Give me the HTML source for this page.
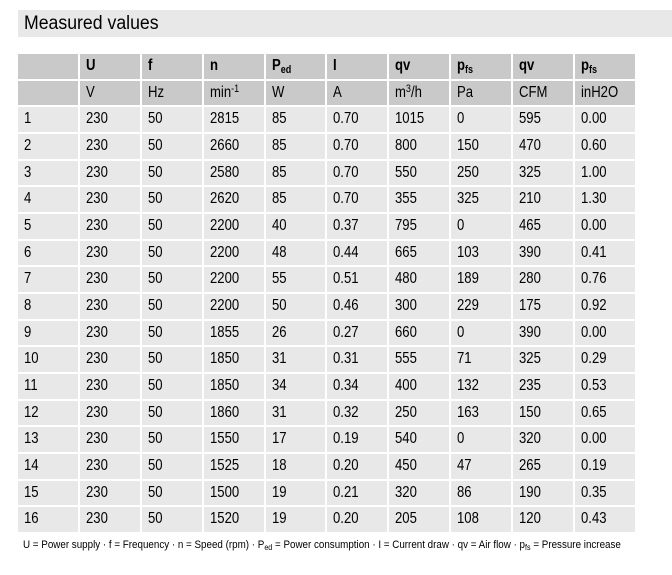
<!DOCTYPE html>
<html><head><meta charset="utf-8">
<style>
html,body{margin:0;padding:0;background:#fff;}
body{width:672px;height:575px;position:relative;overflow:hidden;font-family:"Liberation Sans",Arial,sans-serif;color:#000;}
.bar{position:absolute;left:18px;top:10px;width:654px;height:27px;background:#e8e8e8;}
.title{position:absolute;left:24px;top:10px;line-height:27px;font-size:19px;white-space:nowrap;transform:scaleX(0.93);transform-origin:left center;}
.grid{position:absolute;left:18px;top:54px;display:grid;grid-template-columns:repeat(10,59.9px);grid-template-rows:repeat(18,24.67px);column-gap:2px;row-gap:2px;}
.grid div{background:#e8e8e8;padding-left:6px;line-height:24.67px;font-size:16px;white-space:nowrap;overflow:hidden;}
.grid div.h{background:#c9c9c9;}
.grid div.b{font-weight:bold;}
.grid span.t{display:inline-block;transform:scaleX(0.82);transform-origin:left center;}
sub{font-size:11px;vertical-align:-3px;line-height:0;}
sup{font-size:11px;vertical-align:5px;line-height:0;}
.foot{position:absolute;left:23px;top:539px;font-size:11px;line-height:13px;white-space:nowrap;transform:scaleX(0.892);transform-origin:left center;}
.foot sub{font-size:8px;vertical-align:-2px;}
</style></head><body>
<div class="bar"></div>
<div class="title">Measured values</div>
<div class="grid">
<div class="h"></div><div class="h b"><span class="t">U</span></div><div class="h b"><span class="t">f</span></div><div class="h b"><span class="t">n</span></div><div class="h b"><span class="t">P<sub>ed</sub></span></div><div class="h b"><span class="t">I</span></div><div class="h b"><span class="t">qv</span></div><div class="h b"><span class="t">p<sub>fs</sub></span></div><div class="h b"><span class="t">qv</span></div><div class="h b"><span class="t">p<sub>fs</sub></span></div>
<div class="h"></div><div class="h"><span class="t">V</span></div><div class="h"><span class="t">Hz</span></div><div class="h"><span class="t">min<sup>-1</sup></span></div><div class="h"><span class="t">W</span></div><div class="h"><span class="t">A</span></div><div class="h"><span class="t">m<sup>3</sup>/h</span></div><div class="h"><span class="t">Pa</span></div><div class="h"><span class="t">CFM</span></div><div class="h"><span class="t">inH2O</span></div>
<div><span class="t">1</span></div><div><span class="t">230</span></div><div><span class="t">50</span></div><div><span class="t">2815</span></div><div><span class="t">85</span></div><div><span class="t">0.70</span></div><div><span class="t">1015</span></div><div><span class="t">0</span></div><div><span class="t">595</span></div><div><span class="t">0.00</span></div>
<div><span class="t">2</span></div><div><span class="t">230</span></div><div><span class="t">50</span></div><div><span class="t">2660</span></div><div><span class="t">85</span></div><div><span class="t">0.70</span></div><div><span class="t">800</span></div><div><span class="t">150</span></div><div><span class="t">470</span></div><div><span class="t">0.60</span></div>
<div><span class="t">3</span></div><div><span class="t">230</span></div><div><span class="t">50</span></div><div><span class="t">2580</span></div><div><span class="t">85</span></div><div><span class="t">0.70</span></div><div><span class="t">550</span></div><div><span class="t">250</span></div><div><span class="t">325</span></div><div><span class="t">1.00</span></div>
<div><span class="t">4</span></div><div><span class="t">230</span></div><div><span class="t">50</span></div><div><span class="t">2620</span></div><div><span class="t">85</span></div><div><span class="t">0.70</span></div><div><span class="t">355</span></div><div><span class="t">325</span></div><div><span class="t">210</span></div><div><span class="t">1.30</span></div>
<div><span class="t">5</span></div><div><span class="t">230</span></div><div><span class="t">50</span></div><div><span class="t">2200</span></div><div><span class="t">40</span></div><div><span class="t">0.37</span></div><div><span class="t">795</span></div><div><span class="t">0</span></div><div><span class="t">465</span></div><div><span class="t">0.00</span></div>
<div><span class="t">6</span></div><div><span class="t">230</span></div><div><span class="t">50</span></div><div><span class="t">2200</span></div><div><span class="t">48</span></div><div><span class="t">0.44</span></div><div><span class="t">665</span></div><div><span class="t">103</span></div><div><span class="t">390</span></div><div><span class="t">0.41</span></div>
<div><span class="t">7</span></div><div><span class="t">230</span></div><div><span class="t">50</span></div><div><span class="t">2200</span></div><div><span class="t">55</span></div><div><span class="t">0.51</span></div><div><span class="t">480</span></div><div><span class="t">189</span></div><div><span class="t">280</span></div><div><span class="t">0.76</span></div>
<div><span class="t">8</span></div><div><span class="t">230</span></div><div><span class="t">50</span></div><div><span class="t">2200</span></div><div><span class="t">50</span></div><div><span class="t">0.46</span></div><div><span class="t">300</span></div><div><span class="t">229</span></div><div><span class="t">175</span></div><div><span class="t">0.92</span></div>
<div><span class="t">9</span></div><div><span class="t">230</span></div><div><span class="t">50</span></div><div><span class="t">1855</span></div><div><span class="t">26</span></div><div><span class="t">0.27</span></div><div><span class="t">660</span></div><div><span class="t">0</span></div><div><span class="t">390</span></div><div><span class="t">0.00</span></div>
<div><span class="t">10</span></div><div><span class="t">230</span></div><div><span class="t">50</span></div><div><span class="t">1850</span></div><div><span class="t">31</span></div><div><span class="t">0.31</span></div><div><span class="t">555</span></div><div><span class="t">71</span></div><div><span class="t">325</span></div><div><span class="t">0.29</span></div>
<div><span class="t">11</span></div><div><span class="t">230</span></div><div><span class="t">50</span></div><div><span class="t">1850</span></div><div><span class="t">34</span></div><div><span class="t">0.34</span></div><div><span class="t">400</span></div><div><span class="t">132</span></div><div><span class="t">235</span></div><div><span class="t">0.53</span></div>
<div><span class="t">12</span></div><div><span class="t">230</span></div><div><span class="t">50</span></div><div><span class="t">1860</span></div><div><span class="t">31</span></div><div><span class="t">0.32</span></div><div><span class="t">250</span></div><div><span class="t">163</span></div><div><span class="t">150</span></div><div><span class="t">0.65</span></div>
<div><span class="t">13</span></div><div><span class="t">230</span></div><div><span class="t">50</span></div><div><span class="t">1550</span></div><div><span class="t">17</span></div><div><span class="t">0.19</span></div><div><span class="t">540</span></div><div><span class="t">0</span></div><div><span class="t">320</span></div><div><span class="t">0.00</span></div>
<div><span class="t">14</span></div><div><span class="t">230</span></div><div><span class="t">50</span></div><div><span class="t">1525</span></div><div><span class="t">18</span></div><div><span class="t">0.20</span></div><div><span class="t">450</span></div><div><span class="t">47</span></div><div><span class="t">265</span></div><div><span class="t">0.19</span></div>
<div><span class="t">15</span></div><div><span class="t">230</span></div><div><span class="t">50</span></div><div><span class="t">1500</span></div><div><span class="t">19</span></div><div><span class="t">0.21</span></div><div><span class="t">320</span></div><div><span class="t">86</span></div><div><span class="t">190</span></div><div><span class="t">0.35</span></div>
<div><span class="t">16</span></div><div><span class="t">230</span></div><div><span class="t">50</span></div><div><span class="t">1520</span></div><div><span class="t">19</span></div><div><span class="t">0.20</span></div><div><span class="t">205</span></div><div><span class="t">108</span></div><div><span class="t">120</span></div><div><span class="t">0.43</span></div>
</div>
<div class="foot">U = Power supply · f = Frequency · n = Speed (rpm) · P<sub>ed</sub> = Power consumption · I = Current draw · qv = Air flow · p<sub>fs</sub> = Pressure increase</div>
</body></html>
